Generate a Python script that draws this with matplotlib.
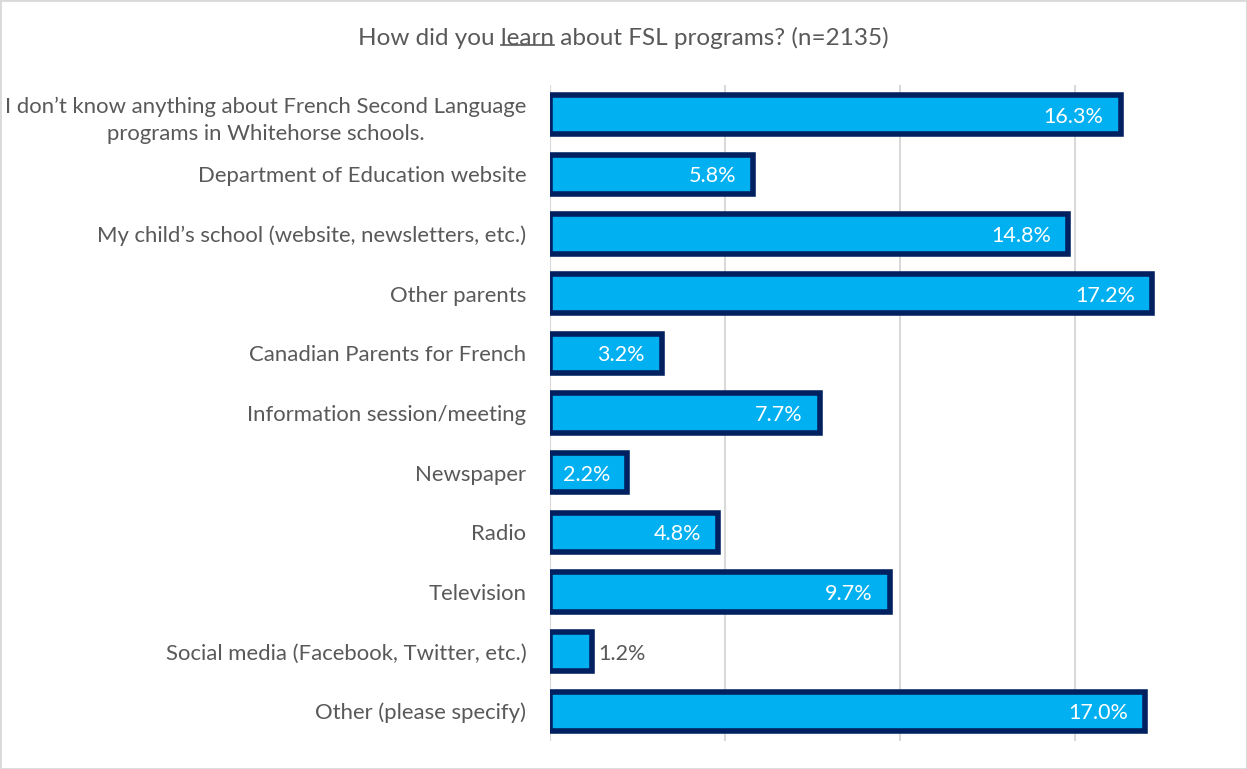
import matplotlib
matplotlib.use("Agg")
import matplotlib.pyplot as plt
from matplotlib.patches import Rectangle

categories = [
    "I don\u2019t know anything about French Second Language\nprograms in Whitehorse schools.",
    "Department of Education website",
    "My child\u2019s school (website, newsletters, etc.)",
    "Other parents",
    "Canadian Parents for French",
    "Information session/meeting",
    "Newspaper",
    "Radio",
    "Television",
    "Social media (Facebook, Twitter, etc.)",
    "Other (please specify)",
]
values = [16.3, 5.8, 14.8, 17.2, 3.2, 7.7, 2.2, 4.8, 9.7, 1.2, 17.0]

FILL = "#00B0F0"
EDGE = "#002060"
TEXT = "#595959"
GRID = "#D9D9D9"
FONT = "Lato"

fig = plt.figure(figsize=(12.47, 7.69), dpi=100)
fig.patches.append(Rectangle((0, 0), 1, 1, transform=fig.transFigure,
                             fill=False, edgecolor=GRID, linewidth=2))
ax = fig.add_axes([550 / 1247, 28 / 769, 697 / 1247, 656 / 769])

y = list(range(len(categories)))
ax.barh(y, values, height=0.66, color=FILL, edgecolor=EDGE, linewidth=4,
        zorder=3)
ax.set_ylim(len(categories) - 0.5, -0.5)
ax.set_xlim(0, 697 / 35)
ax.set_xticks([0, 5, 10, 15])
ax.set_xticklabels([])
ax.tick_params(axis="x", length=0)
ax.xaxis.grid(True, color=GRID, linewidth=1.5, zorder=0)
for s in ax.spines.values():
    s.set_visible(False)

ax.set_yticks(y)
ax.set_yticklabels(categories, fontsize=15.9, color=TEXT, family=FONT,
                   multialignment="center", linespacing=1.45)
ax.tick_params(axis="y", length=0, pad=17)

for yi, v in zip(y, values):
    if v < 2:
        ax.annotate(f"{v:.1f}%", (v, yi), xytext=(6, 0), textcoords="offset pixels",
                    ha="left", va="center_baseline", fontsize=15.5, color=TEXT,
                    family=FONT)
    else:
        ax.annotate(f"{v:.1f}%", (v, yi), xytext=(-17, 0), textcoords="offset pixels",
                    ha="right", va="center_baseline", fontsize=15.5, color="white",
                    family=FONT, zorder=4)

# title with underlined "learn"
title = "How did you learn about FSL programs? (n=2135)"
tsize = 17.5
t = fig.text(0.5, 1 - 38 / 769, title, ha="center", va="center", fontsize=tsize,
             color=TEXT, family=FONT)
fig.canvas.draw()
r = fig.canvas.get_renderer()
bb = t.get_window_extent(r)
tmp = fig.text(0, 0, "How did you learn", fontsize=tsize, family=FONT)
w1 = tmp.get_window_extent(r).width
tmp.set_text("learn")
w2 = tmp.get_window_extent(r).width
tmp.remove()
x0 = bb.x0 + w1 - w2
yl = bb.y0 + 4
fig.add_artist(plt.Line2D([x0 / 1247, (x0 + w2) / 1247], [yl / 769, yl / 769],
                          color=TEXT, linewidth=1.2))

fig.savefig("out.png", dpi=100)
